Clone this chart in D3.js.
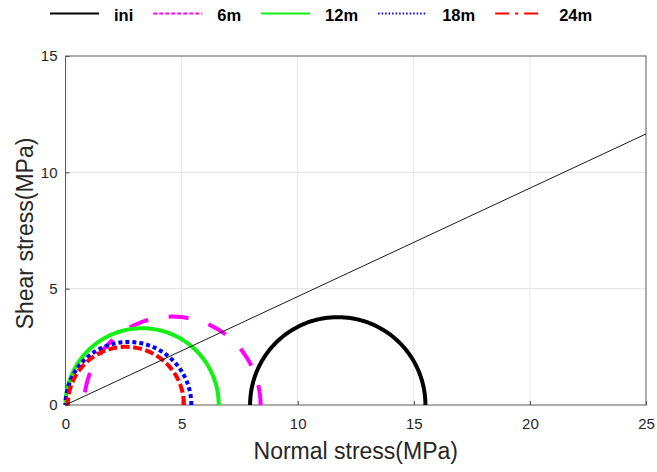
<!DOCTYPE html>
<html>
<head>
<meta charset="utf-8">
<script src="https://cdn.jsdelivr.net/npm/d3@7"></script>
<style>
  body { margin: 0; background: #fff; }
  text { font-family: "Liberation Sans", Arial, sans-serif; }
</style>
</head>
<body>
<div id="chart"></div>
<script>
// Mohr circles per stage: minor and major principal stress (MPa)
var seriesNames = ['ini', '6m', '12m', '18m', '24m'];
var sigma3 = [7.95, 0.8, 0, 0, 0.1];
var sigma1 = [15.5, 8.4, 6.6, 5.42, 5.1];

// failure envelope (straight line through origin)
var envelopeX = [0, 25];
var envelopeY = [0, 11.65];

var xTicks = [0, 5, 10, 15, 20, 25];
var yTicks = [0, 5, 10, 15];

var styles = {
  'ini': { color: '#000000', dash: null,          legendDash: null },
  '6m':  { color: '#ff00ff', dash: '20,20.8',     legendDash: '4,2' },
  '12m': { color: '#13f013', dash: null,          legendDash: null },
  '18m': { color: '#0000ff', dash: '4,3',         legendDash: '1.5,2' },
  '24m': { color: '#ff0000', dash: '9,3.5',       legendDash: '14,6,3,6' }
};

var width = 657, height = 472;
var margin = { top: 56, right: 11, bottom: 67, left: 65.5 };

var svg = d3.select('#chart').append('svg')
  .attr('width', width)
  .attr('height', height);

var x = d3.scaleLinear().domain([0, 25]).range([margin.left, width - margin.right]);
var y = d3.scaleLinear().domain([0, 15]).range([height - margin.bottom, margin.top]);

// grid
svg.append('g').selectAll('line')
  .data(xTicks.slice(1, -1))
  .enter().append('line')
  .attr('x1', function(d) { return x(d); }).attr('x2', function(d) { return x(d); })
  .attr('y1', y(0)).attr('y2', y(15))
  .attr('stroke', '#e3e3e3').attr('stroke-width', 1);
svg.append('g').selectAll('line')
  .data(yTicks.slice(1, -1))
  .enter().append('line')
  .attr('y1', function(d) { return y(d); }).attr('y2', function(d) { return y(d); })
  .attr('x1', x(0)).attr('x2', x(25))
  .attr('stroke', '#e3e3e3').attr('stroke-width', 1);

// axes
var xAxis = svg.append('g')
  .attr('transform', 'translate(0,' + y(0) + ')')
  .call(d3.axisBottom(x).tickValues(xTicks).tickSize(-4).tickPadding(13));
var yAxis = svg.append('g')
  .attr('transform', 'translate(' + x(0) + ',0)')
  .call(d3.axisLeft(y).tickValues(yTicks).tickSize(-4).tickPadding(8));

[xAxis, yAxis].forEach(function(a) {
  a.select('.domain').remove();
  a.selectAll('.tick line').attr('stroke', '#444');
  a.selectAll('.tick text')
    .attr('fill', '#262626')
    .style('font-size', '15px')
    .style('font-family', '"Liberation Sans", Arial, sans-serif');
});

// box
svg.append('rect')
  .attr('x', x(0)).attr('y', y(15))
  .attr('width', x(25) - x(0)).attr('height', y(0) - y(15))
  .attr('fill', 'none').attr('stroke', '#5a5a5a').attr('stroke-width', 1);

// circles
var angles = d3.range(0, 181, 1);
var line = d3.line()
  .x(function(p) { return x(p[0]); })
  .y(function(p) { return y(p[1]); });

var circles = seriesNames.map(function(name, i) {
  var c = (sigma1[i] + sigma3[i]) / 2, r = (sigma1[i] - sigma3[i]) / 2;
  return {
    name: name,
    pts: angles.map(function(a) {
      var t = a * Math.PI / 180;
      return [c + r * Math.cos(t), r * Math.sin(t)];
    })
  };
});

svg.append('g').selectAll('path')
  .data(circles)
  .enter().append('path')
  .attr('d', function(d) { return line(d.pts); })
  .attr('fill', 'none')
  .attr('stroke', function(d) { return styles[d.name].color; })
  .attr('stroke-width', 4)
  .attr('stroke-dasharray', function(d) { return styles[d.name].dash; });

// envelope
svg.append('path')
  .attr('d', line(envelopeX.map(function(v, i) { return [v, envelopeY[i]]; })))
  .attr('fill', 'none')
  .attr('stroke', '#000')
  .attr('stroke-width', 0.9);

// axis titles
svg.append('text')
  .attr('x', (x(0) + x(25)) / 2).attr('y', 459)
  .attr('text-anchor', 'middle')
  .attr('fill', '#262626')
  .style('font-size', '23px')
  .text('Normal stress(MPa)');
svg.append('text')
  .attr('transform', 'translate(33,' + ((y(0) + y(15)) / 2 + 3) + ') rotate(-90)')
  .attr('text-anchor', 'middle')
  .attr('fill', '#262626')
  .style('font-size', '23px')
  .text('Shear stress(MPa)');

// legend
var legend = svg.append('g');
var lx = 50;
seriesNames.forEach(function(name) {
  var s = styles[name];
  legend.append('line')
    .attr('x1', lx).attr('x2', lx + 49)
    .attr('y1', 13.5).attr('y2', 13.5)
    .attr('stroke', s.color)
    .attr('stroke-width', 2)
    .attr('stroke-dasharray', s.legendDash);
  var t = legend.append('text')
    .attr('x', lx + 64).attr('y', 20.5)
    .attr('fill', '#000')
    .style('font-size', '16.5px')
    .style('font-weight', 'bold')
    .text(name);
  lx += 84 + t.node().getComputedTextLength();
});
</script>
</body>
</html>
